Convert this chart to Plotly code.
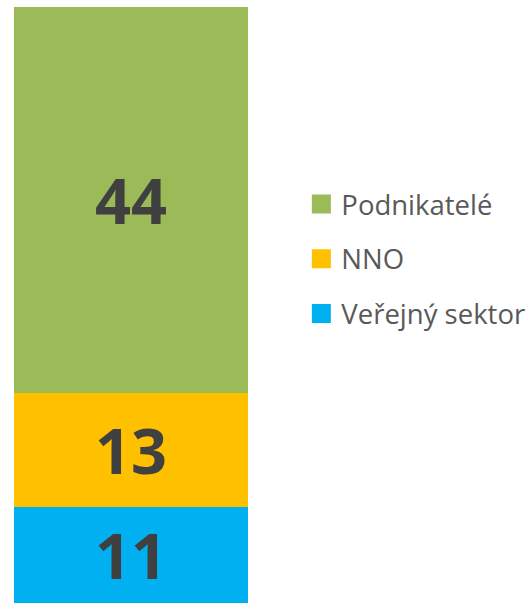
import plotly.graph_objects as go

categories = [""]
series_names = ["Veřejný sektor", "NNO", "Podnikatelé"]
series_values = [[11], [13], [44]]
colors = ["#00B0F0", "#FFC000", "#9BBB59"]

fig = go.Figure()
for name, vals, col in zip(series_names, series_values, colors):
    fig.add_trace(go.Bar(
        x=categories, y=vals, name=name, marker=dict(color=col, line=dict(width=0)),
        text=[str(v) for v in vals], textposition="inside", insidetextanchor="middle",
        textfont=dict(family="Open Sans", size=63, color="#404040", weight="bold"),
        showlegend=False, width=1, hoverinfo="skip",
    ))
# legend entries with larger square symbols
for name, col in zip(reversed(series_names), reversed(colors)):
    fig.add_trace(go.Scatter(
        x=[None], y=[None], mode="markers", name=name, legendgroup=name,
        marker=dict(symbol="square", size=16, color=col, line=dict(width=3, color=col)),
    ))

fig.update_layout(
    barmode="stack",
    width=531, height=603,
    margin=dict(l=0, r=0, t=7, b=0),
    paper_bgcolor="white", plot_bgcolor="white",
    xaxis=dict(domain=[14/531, 248/531], range=[-0.5, 0.5], visible=False, fixedrange=True),
    yaxis=dict(range=[0, 68], visible=False, fixedrange=True),
    uniformtext=dict(minsize=63, mode="show"),
    legend=dict(
        x=0.5675, xanchor="left", y=0.577, yanchor="middle",
        font=dict(family="Open Sans", size=27.5, color="#595959"),
        traceorder="grouped", tracegroupgap=16, itemsizing="trace",
        bgcolor="rgba(0,0,0,0)",
    ),
)
fig.write_html("out.html", config={"displayModeBar": False})
with open("out.html", encoding="utf-8") as f:
    html = f.read()
html = html.replace("<body>", "<body style=\"margin:0;padding:0;overflow:hidden\">", 1)
with open("out.html", "w", encoding="utf-8") as f:
    f.write(html)
